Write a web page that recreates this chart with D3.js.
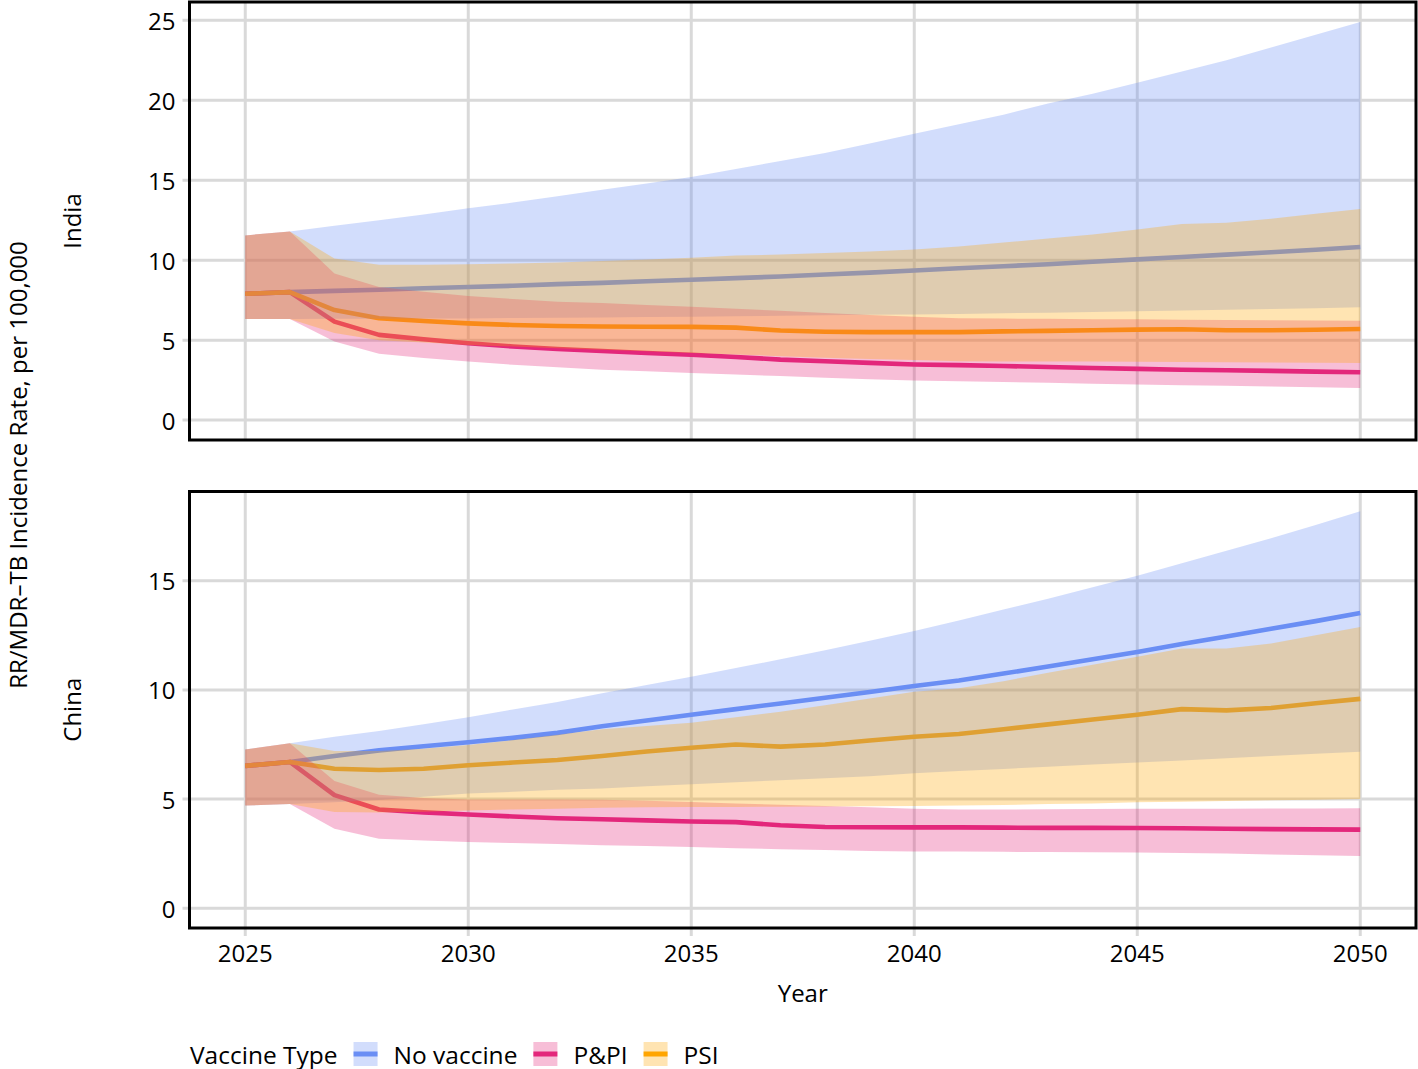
<!DOCTYPE html>
<html>
<head>
<meta charset="utf-8">
<script src="https://cdn.jsdelivr.net/npm/d3@7"></script>
<style>
  body { margin: 0; background: #fff; }
  text { font-family: "Open Sans", sans-serif; fill: #000; }
</style>
</head>
<body>
<svg id="chart" width="1418" height="1069"></svg>
<script>
// Years on the x axis
const years = [2025, 2026, 2027, 2028, 2029, 2030, 2031, 2032, 2033, 2034, 2035, 2036, 2037,
  2038, 2039, 2040, 2041, 2042, 2043, 2044, 2045, 2046, 2047, 2048, 2049, 2050];
const xTicks = [2025, 2030, 2035, 2040, 2045, 2050];

// India
const indiaNoVacMean = [7.9, 8.0, 8.08, 8.15, 8.24, 8.32, 8.4, 8.5, 8.58, 8.68, 8.78, 8.88, 8.98, 9.1, 9.22, 9.35, 9.5, 9.62, 9.75, 9.9, 10.05, 10.2, 10.35, 10.5, 10.65, 10.82];
const indiaNoVacLo = [6.32, 6.32, 6.33, 6.34, 6.35, 6.36, 6.38, 6.4, 6.42, 6.44, 6.46, 6.49, 6.52, 6.55, 6.58, 6.61, 6.64, 6.68, 6.72, 6.76, 6.8, 6.85, 6.9, 6.95, 7.0, 7.06];
const indiaNoVacHi = [11.55, 11.8, 12.15, 12.5, 12.85, 13.25, 13.6, 14.0, 14.4, 14.8, 15.2, 15.7, 16.2, 16.7, 17.3, 17.9, 18.5, 19.1, 19.8, 20.4, 21.1, 21.8, 22.5, 23.3, 24.1, 24.9];
const indiaPPIMean = [7.9, 8.0, 6.16, 5.33, 5.06, 4.81, 4.6, 4.45, 4.32, 4.2, 4.09, 3.95, 3.78, 3.68, 3.58, 3.48, 3.44, 3.38, 3.32, 3.26, 3.2, 3.15, 3.12, 3.08, 3.03, 2.99];
const indiaPPILo = [6.32, 6.32, 4.91, 4.15, 3.88, 3.67, 3.46, 3.3, 3.15, 3.05, 2.95, 2.85, 2.75, 2.65, 2.55, 2.47, 2.43, 2.38, 2.33, 2.28, 2.22, 2.18, 2.14, 2.1, 2.05, 2.01];
const indiaPPIHi = [11.55, 11.8, 9.17, 8.33, 8.02, 7.76, 7.57, 7.4, 7.32, 7.2, 7.08, 6.96, 6.84, 6.7, 6.57, 6.46, 6.37, 6.35, 6.33, 6.31, 6.3, 6.28, 6.26, 6.25, 6.23, 6.22];
const indiaPSIMean = [7.9, 8.0, 6.88, 6.37, 6.2, 6.05, 5.95, 5.88, 5.85, 5.84, 5.83, 5.78, 5.6, 5.52, 5.5, 5.5, 5.5, 5.55, 5.58, 5.62, 5.66, 5.68, 5.62, 5.62, 5.65, 5.7];
const indiaPSILo = [6.32, 6.32, 5.45, 5.0, 4.85, 4.7, 4.6, 4.5, 4.4, 4.3, 4.2, 4.1, 4.0, 3.9, 3.82, 3.75, 3.68, 3.67, 3.66, 3.66, 3.65, 3.64, 3.62, 3.6, 3.58, 3.57];
const indiaPSIHi = [11.55, 11.8, 10.1, 9.72, 9.72, 9.75, 9.8, 9.85, 9.95, 10.05, 10.15, 10.3, 10.35, 10.45, 10.55, 10.66, 10.86, 11.1, 11.35, 11.6, 11.92, 12.27, 12.34, 12.59, 12.9, 13.2];

// China
const chinaNoVacMean = [6.52, 6.7, 6.97, 7.23, 7.42, 7.6, 7.8, 8.03, 8.33, 8.6, 8.86, 9.12, 9.38, 9.64, 9.9, 10.18, 10.43, 10.75, 11.07, 11.4, 11.74, 12.1, 12.45, 12.8, 13.15, 13.52];
const chinaNoVacLo = [4.7, 4.77, 4.85, 4.95, 5.1, 5.25, 5.33, 5.42, 5.48, 5.58, 5.68, 5.77, 5.86, 5.95, 6.04, 6.18, 6.28, 6.38, 6.48, 6.58, 6.67, 6.77, 6.87, 6.97, 7.07, 7.17];
const chinaNoVacHi = [7.27, 7.55, 7.85, 8.12, 8.42, 8.75, 9.1, 9.45, 9.85, 10.22, 10.6, 11.0, 11.4, 11.82, 12.25, 12.7, 13.18, 13.68, 14.18, 14.7, 15.23, 15.8, 16.37, 16.95, 17.55, 18.18];
const chinaPPIMean = [6.52, 6.7, 5.18, 4.52, 4.39, 4.29, 4.2, 4.12, 4.07, 4.02, 3.97, 3.94, 3.8, 3.72, 3.71, 3.7, 3.7, 3.69, 3.68, 3.68, 3.67, 3.66, 3.64, 3.62, 3.61, 3.6];
const chinaPPILo = [4.7, 4.77, 3.64, 3.18, 3.1, 3.03, 2.98, 2.94, 2.88, 2.85, 2.8, 2.75, 2.7, 2.66, 2.62, 2.6, 2.6, 2.58, 2.57, 2.56, 2.55, 2.53, 2.5, 2.46, 2.42, 2.39];
const chinaPPIHi = [7.27, 7.55, 5.83, 5.2, 5.05, 4.98, 4.98, 4.98, 4.97, 4.92, 4.86, 4.8, 4.74, 4.68, 4.62, 4.56, 4.52, 4.52, 4.53, 4.54, 4.55, 4.56, 4.56, 4.57, 4.57, 4.58];
const chinaPSIMean = [6.52, 6.7, 6.39, 6.33, 6.39, 6.55, 6.67, 6.79, 6.97, 7.18, 7.35, 7.5, 7.4, 7.5, 7.68, 7.85, 7.98, 8.2, 8.42, 8.64, 8.86, 9.12, 9.06, 9.17, 9.39, 9.59];
const chinaPSILo = [4.7, 4.77, 4.4, 4.38, 4.42, 4.47, 4.52, 4.56, 4.6, 4.62, 4.63, 4.64, 4.65, 4.66, 4.67, 4.68, 4.7, 4.73, 4.77, 4.8, 4.85, 4.88, 4.91, 4.94, 4.97, 5.0];
const chinaPSIHi = [7.27, 7.55, 7.2, 7.2, 7.3, 7.48, 7.7, 7.95, 8.2, 8.35, 8.5, 8.75, 9.0, 9.3, 9.6, 9.92, 10.08, 10.4, 10.78, 11.15, 11.52, 11.9, 11.9, 12.12, 12.5, 12.88];

const vaccineTypes = ["No vaccine", "P&PI", "PSI"];
const colors = { "No vaccine": "#6a8ef4", "P&PI": "#e3277b", "PSI": "#ffa500" };

const panels = [
  {
    name: "India", top: 2, bottom: 440, ticks: [0, 5, 10, 15, 20, 25], showX: false,
    series: {
      "No vaccine": { mean: indiaNoVacMean, lo: indiaNoVacLo, hi: indiaNoVacHi },
      "P&PI": { mean: indiaPPIMean, lo: indiaPPILo, hi: indiaPPIHi },
      "PSI": { mean: indiaPSIMean, lo: indiaPSILo, hi: indiaPSIHi },
    },
  },
  {
    name: "China", top: 491.5, bottom: 928, ticks: [0, 5, 10, 15], showX: true,
    series: {
      "No vaccine": { mean: chinaNoVacMean, lo: chinaNoVacLo, hi: chinaNoVacHi },
      "P&PI": { mean: chinaPPIMean, lo: chinaPPILo, hi: chinaPPIHi },
      "PSI": { mean: chinaPSIMean, lo: chinaPSILo, hi: chinaPSIHi },
    },
  },
];

const svg = d3.select("#chart");
const left = 189.5, right = 1416;
const gridColor = "#d9d9d9";

// x scale with ggplot-like 5% expansion
const xPad = (d3.max(years) - d3.min(years)) * 0.05;
const x = d3.scaleLinear()
  .domain([d3.min(years) - xPad, d3.max(years) + xPad])
  .range([left, right]);

panels.forEach((p) => {
  const maxHi = d3.max(vaccineTypes, (v) => d3.max(p.series[v].hi));
  const yPad = maxHi * 0.05;
  const y = d3.scaleLinear().domain([-yPad, maxHi + yPad]).range([p.bottom, p.top]);

  const g = svg.append("g");

  // gridlines + tick marks
  g.selectAll(".hgrid").data(p.ticks).enter().append("line")
    .attr("x1", left - 7).attr("x2", right)
    .attr("y1", (d) => y(d)).attr("y2", (d) => y(d))
    .attr("stroke", gridColor).attr("stroke-width", 3);
  g.selectAll(".vgrid").data(xTicks).enter().append("line")
    .attr("x1", (d) => x(d)).attr("x2", (d) => x(d))
    .attr("y1", p.top).attr("y2", p.showX ? p.bottom + 8 : p.bottom)
    .attr("stroke", gridColor).attr("stroke-width", 3);

  // y tick labels
  g.selectAll(".ylab").data(p.ticks).enter().append("text")
    .attr("x", left - 14).attr("y", (d) => y(d))
    .attr("text-anchor", "end").attr("dominant-baseline", "central")
    .attr("font-size", 24).text((d) => d);

  if (p.showX) {
    g.selectAll(".xlab").data(xTicks).enter().append("text")
      .attr("x", (d) => x(d)).attr("y", p.bottom + 34)
      .attr("text-anchor", "middle").attr("font-size", 24).text((d) => d);
  }

  const line = d3.line().x((d, i) => x(years[i])).y((d) => y(d));
  const area = d3.area()
    .x((d, i) => x(years[i]))
    .y0((d) => y(d.lo))
    .y1((d) => y(d.hi));

  // lines first, ribbons on top (as in the original)
  vaccineTypes.forEach((v) => {
    g.append("path").datum(p.series[v].mean)
      .attr("d", line).attr("fill", "none")
      .attr("stroke", colors[v]).attr("stroke-width", 4.6)
      .attr("stroke-linejoin", "round");
  });
  vaccineTypes.forEach((v) => {
    const s = p.series[v];
    const pts = years.map((yr, i) => ({ lo: s.lo[i], hi: s.hi[i] }));
    g.append("path").datum(pts)
      .attr("d", area).attr("fill", colors[v]).attr("fill-opacity", 0.3);
  });

  // panel border
  g.append("rect")
    .attr("x", left).attr("y", p.top)
    .attr("width", right - left).attr("height", p.bottom - p.top)
    .attr("fill", "none").attr("stroke", "#000").attr("stroke-width", 3);

  // strip label on the left
  const cy = (p.top + p.bottom) / 2;
  svg.append("text")
    .attr("transform", `translate(81,${cy}) rotate(-90)`)
    .attr("text-anchor", "middle").attr("font-size", 24).text(p.name);
});

// axis titles
svg.append("text")
  .attr("x", (left + right) / 2).attr("y", 1002)
  .attr("text-anchor", "middle").attr("font-size", 24).text("Year");
svg.append("text")
  .attr("transform", `translate(27,465) rotate(-90)`)
  .attr("text-anchor", "middle").attr("font-size", 24)
  .text("RR/MDR\u2013TB Incidence Rate, per 100,000");

// legend
const legend = svg.append("g");
const legY = 1054;
const keyW = 24;
const title = legend.append("text")
  .attr("x", 190).attr("y", legY).attr("dominant-baseline", "central")
  .attr("font-size", 24.5).text("Vaccine Type");
let cx = 190 + title.node().getComputedTextLength() + 16;
vaccineTypes.forEach((v) => {
  legend.append("rect")
    .attr("x", cx).attr("y", legY - 12).attr("width", keyW).attr("height", 24)
    .attr("fill", colors[v]).attr("fill-opacity", 0.3);
  legend.append("line")
    .attr("x1", cx).attr("x2", cx + keyW).attr("y1", legY).attr("y2", legY)
    .attr("stroke", colors[v]).attr("stroke-width", 5);
  const t = legend.append("text")
    .attr("x", cx + keyW + 16).attr("y", legY).attr("dominant-baseline", "central")
    .attr("font-size", 24.5).text(v);
  cx += keyW + 16 + t.node().getComputedTextLength() + 16;
});
</script>
</body>
</html>
